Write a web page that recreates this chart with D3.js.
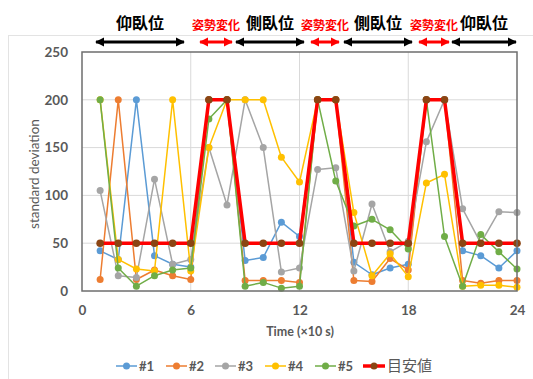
<!DOCTYPE html>
<html><head><meta charset="utf-8">
<script src="https://cdn.jsdelivr.net/npm/d3@7"></script>
<style>
body{margin:0;background:#fff;}
svg{display:block;}
</style></head>
<body><svg id="c" width="533" height="379"></svg>
<script>
const times = d3.range(1, 25);
const seriesNames = ["#1", "#2", "#3", "#4", "#5", "目安値"];
const s1 = [42,33,200,37,28,25,200,200,32,35,72,57,200,200,30,17,24,28,200,200,42,37,24,42];
const s2 = [12,200,12,22,16,12,200,200,11,11,11,9,200,200,11,10,34,22,200,200,11,8,11,11];
const s3 = [105,16,14,117,28,33,150,90,200,150,20,24,127,129,21,91,41,52,156,200,86,50,83,82];
const s4 = [200,33,23,21,200,21,150,200,200,200,140,114,200,200,82,16,39,15,113,122,5,6,6,4];
const s5 = [200,24,5,16,22,24,180,200,5,9,3,5,200,115,68,75,64,44,200,57,5,59,41,23];
const target = [50,50,50,50,50,50,200,200,50,50,50,50,200,200,50,50,50,50,200,200,50,50,50,50];
const xTicks = [0, 6, 12, 18, 24];
const yTicks = [0, 50, 100, 150, 200, 250];
const phaseLabels = ["仰臥位","姿勢変化","側臥位","姿勢変化","側臥位","姿勢変化","仰臥位"];
const phaseStart = [0.72, 6.46, 8.44, 12.58, 14.4, 18.54, 20.36];
const phaseEnd   = [5.68, 8.33, 12.3, 14.23, 18.26, 20.3, 24];
const phaseKind  = ["pose","change","pose","change","pose","change","pose"];

const allSeries = [s1, s2, s3, s4, s5, target];
const lineColors = ["#5B9BD5","#ED7D31","#A5A5A5","#FFC000","#70AD47","#FF0000"];
const markerColors = ["#5B9BD5","#ED7D31","#A5A5A5","#FFC000","#70AD47","#8B4513"];
const lineWidths = [1.5,1.5,1.5,1.5,1.5,3.5];

const svg = d3.select("#c");
const L = 82, R = 517, T = 52, B = 291;
const x = d3.scaleLinear().domain([0, 24]).range([L, R]);
const y = d3.scaleLinear().domain([0, 250]).range([B, T]);
const grey = "#595959";
const latin = "Lato, 'Noto Sans', sans-serif";
const cjk = "'Noto Sans CJK JP', sans-serif";

// chart area faint border
svg.append("line").attr("x1",8).attr("x2",533).attr("y1",35.5).attr("y2",35.5).attr("stroke","#e3e3e3");
svg.append("line").attr("x1",8.5).attr("x2",8.5).attr("y1",35).attr("y2",379).attr("stroke","#e3e3e3");

// gridlines
svg.append("g").selectAll("line").data(yTicks.filter(v => v > 0 && v < 250)).join("line")
  .attr("x1", L).attr("x2", R).attr("y1", d => y(d)).attr("y2", d => y(d))
  .attr("stroke", "#d9d9d9").attr("stroke-width", 1);
svg.append("g").selectAll("line").data(xTicks.filter(v => v > 0 && v < 24)).join("line")
  .attr("y1", T).attr("y2", B).attr("x1", d => x(d)).attr("x2", d => x(d))
  .attr("stroke", "#d9d9d9").attr("stroke-width", 1);

// axes
const xa = svg.append("g").attr("transform", `translate(0,${B})`)
  .call(d3.axisBottom(x).tickValues(xTicks).tickSize(0).tickPadding(14));
const ya = svg.append("g").attr("transform", `translate(${L},0)`)
  .call(d3.axisLeft(y).tickValues(yTicks).tickSize(0).tickPadding(14));
[xa, ya].forEach(a => {
  a.select(".domain").remove();
  a.selectAll("text").attr("fill", grey).style("font-family", latin)
    .style("font-size", "13.5px").style("font-weight", "bold");
});

// series
const line = d3.line().defined(d => d != null).x((d, i) => x(times[i])).y(d => y(d));
allSeries.forEach((s, k) => {
  const g = svg.append("g");
  g.append("path").datum(s).attr("d", line).attr("fill", "none")
    .attr("stroke", lineColors[k]).attr("stroke-width", lineWidths[k])
    .attr("stroke-linejoin", "round");
  g.selectAll("circle").data(s).join("circle")
    .attr("cx", (d, i) => x(times[i])).attr("cy", d => y(d))
    .attr("r", k === 5 ? 3.8 : 3.5).attr("fill", markerColors[k]);
});

// plot border
svg.append("rect").attr("x", L).attr("y", T).attr("width", R - L).attr("height", B - T)
  .attr("fill", "none").attr("stroke", "#6e6e6e").attr("stroke-width", 1.5);

// axis titles
svg.append("text").attr("x", 300).attr("y", 336).attr("text-anchor", "middle")
  .attr("fill", grey).style("font-family", latin).style("font-size", "12.5px").style("font-weight", "bold")
  .text("Time (×10 s)");
svg.append("text").attr("transform", "translate(39,174) rotate(-90)").attr("text-anchor", "middle")
  .attr("fill", grey).style("font-family", latin).style("font-size", "13.5px")
  .text("standard deviation");

// phase arrows
const defs = svg.append("defs");
["#000000", "#FF0000"].forEach((c, i) => {
  ["s","e"].forEach(side => {
    defs.append("marker").attr("id", `ah${i}${side}`).attr("viewBox", "0 0 10 10")
      .attr("refX", side === "e" ? 9 : 1).attr("refY", 5)
      .attr("markerUnits", "userSpaceOnUse").attr("markerWidth", 9).attr("markerHeight", 10)
      .attr("orient", "auto")
      .append("path").attr("d", side === "e" ? "M0,0 L10,5 L0,10 Z" : "M10,0 L0,5 L10,10 Z")
      .attr("fill", c);
  });
});
phaseLabels.forEach((lab, i) => {
  const isPose = phaseKind[i] === "pose";
  const c = isPose ? "#000000" : "#FF0000";
  const id = isPose ? 0 : 1;
  const x0 = x(phaseStart[i]), x1 = x(phaseEnd[i]);
  svg.append("line").attr("x1", x0 + 1).attr("x2", x1 - 1).attr("y1", 42).attr("y2", 42)
    .attr("stroke", c).attr("stroke-width", 3)
    .attr("marker-start", `url(#ah${id}s)`).attr("marker-end", `url(#ah${id}e)`);
  svg.append("text").attr("x", (x0 + x1) / 2).attr("y", isPose ? 29 : 30)
    .attr("text-anchor", "middle").attr("fill", c)
    .style("font-family", cjk).style("font-weight", "bold")
    .style("font-size", isPose ? "16px" : "12px").text(lab);
});

// legend
const legX = [116, 166, 215, 265, 315, 363];
seriesNames.forEach((n, k) => {
  const g = svg.append("g").attr("transform", `translate(${legX[k]},366)`);
  const w = k === 5 ? 22 : 21;
  g.append("line").attr("x1", 0).attr("x2", w).attr("y1", 0).attr("y2", 0)
    .attr("stroke", lineColors[k]).attr("stroke-width", k === 5 ? 3.5 : 1.5);
  g.append("circle").attr("cx", w / 2).attr("cy", 0).attr("r", 3.5).attr("fill", markerColors[k]);
  g.append("text").attr("x", w + 2).attr("y", 5).attr("fill", grey)
    .style("font-family", k === 5 ? cjk : latin).style("font-weight", k === 5 ? "normal" : "bold")
    .style("font-size", k === 5 ? "15px" : "13px").text(n);
});
</script></body></html>
